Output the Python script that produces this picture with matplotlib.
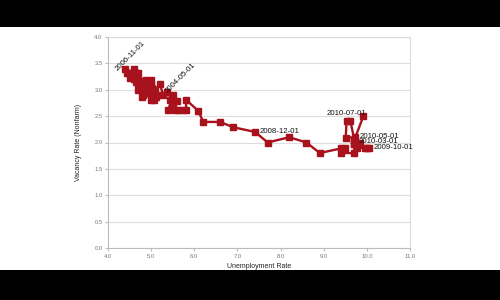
import matplotlib
matplotlib.use("Agg")
from matplotlib import pyplot as plt
from matplotlib.patches import Rectangle

plt.rcParams['font.family'] = ['Liberation Sans', 'DejaVu Sans']

# unemployment rate / vacancy rate in path order
unemp = [5.36, 5.28, 5.20, 5.09, 5.01, 5.09, 4.97, 4.89, 4.99, 5.07, 4.82, 4.78, 4.69,
         4.93, 4.86, 4.79, 4.74, 4.69, 4.70, 4.66, 4.61, 4.55, 4.60, 4.51, 4.43, 4.39,
         4.47, 4.51, 4.60, 4.70, 4.65, 4.78, 4.89, 4.99, 4.91, 4.99, 4.80, 5.11, 5.14,
         5.50, 5.44, 5.48, 5.40, 5.51, 5.59, 5.55, 5.63, 5.71, 5.81, 5.81,
         6.09, 6.21, 6.60, 6.90, 7.41, 7.70, 8.20, 8.60, 8.91, 9.41, 9.50, 9.41, 9.71,
         9.71, 10.06, 10.00, 9.95, 9.76, 9.71, 9.71, 9.84, 9.73, 9.51, 9.53, 9.62,
         9.71, 9.92]
vacancy = [2.96, 2.90, 3.11, 2.98, 3.03, 2.87, 2.93, 2.93, 2.81, 2.81, 3.01, 2.87, 3.00,
           3.15, 3.12, 3.17, 3.06, 3.10, 3.20, 3.31, 3.20, 3.25, 3.40, 3.31, 3.31, 3.40,
           3.31, 3.22, 3.22, 3.31, 3.14, 3.12, 3.18, 3.18, 3.00, 3.09, 2.90, 2.87, 2.90,
           2.90, 2.81, 2.84, 2.62, 2.71, 2.79, 2.62, 2.62, 2.62, 2.62, 2.81,
           2.60, 2.39, 2.39, 2.29, 2.20, 2.00, 2.10, 2.00, 1.80, 1.89, 1.89, 1.80, 1.80,
           1.98, 1.90, 1.90, 1.90, 1.90, 1.98, 2.02, 2.00, 2.10, 2.09, 2.40, 2.40,
           2.05, 2.50]

# (label, index into the series, offset in points, rotation, ha, va)
labels = [("2006-11-01", 25, (-6, -1), 45, "left", "center"),
          ("2004-05-01", 0, (0, 0), 45, "left", "center"),
          ("2008-12-01", 54, (3, 0), 0, "left", "center"),
          ("2009-10-01", 64, (3, 0), 0, "left", "center"),
          ("2010-05-01", 71, (3, 0.5), 0, "left", "center"),
          ("2010-03-01", 69, (3, 0), 0, "left", "center"),
          ("2010-07-01", 73, (0, 3), 0, "center", "bottom")]

red = "#a8121c"

fig = plt.figure(figsize=(5, 3), dpi=100)
ax = fig.add_axes([0.216, 0.1733, 0.604, 0.7034])

ax.plot(unemp, vacancy, color=red, lw=1.7, marker="s", ms=3.8,
        mfc=red, mec=red, zorder=3)

for text, i, off, rot, ha, va in labels:
    ax.annotate(text, (unemp[i], vacancy[i]), xytext=off, textcoords="offset points",
                fontsize=5.6, color="#111111", rotation=rot, rotation_mode="anchor",
                ha=ha, va=va, zorder=4)

ax.set_xlim(4, 11)
ax.set_ylim(0, 4)
ax.set_xticks([4, 5, 6, 7, 8, 9, 10, 11])
ax.set_xticklabels([f"{v:.1f}" for v in range(4, 12)])
ax.set_yticks([0, 0.5, 1, 1.5, 2, 2.5, 3, 3.5, 4])
ax.set_yticklabels([f"{v:.1f}" for v in [0, 0.5, 1, 1.5, 2, 2.5, 3, 3.5, 4]])
ax.tick_params(labelsize=4.2, labelcolor="#777777", color="#bbbbbb", length=2, pad=2)
ax.yaxis.grid(True, color="#dddddd", lw=0.8)
ax.set_axisbelow(True)
for side in ["top", "right"]:
    ax.spines[side].set_color("#dddddd")
for side in ["left", "bottom"]:
    ax.spines[side].set_color("#bbbbbb")
for s in ax.spines.values():
    s.set_linewidth(0.8)

ax.set_xlabel("Unemployment Rate", fontsize=5, color="#222222", labelpad=3)
ax.set_ylabel("Vacancy Rate (Nonfarm)", fontsize=5, color="#222222", labelpad=9)

# letterbox bands
fig.patches.append(Rectangle((0, 0.91), 1, 0.09, transform=fig.transFigure,
                             facecolor="black", edgecolor="none", zorder=10))
fig.patches.append(Rectangle((0, 0), 1, 0.1, transform=fig.transFigure,
                             facecolor="black", edgecolor="none", zorder=10))

fig.savefig("out.png", dpi=100, facecolor="white")
